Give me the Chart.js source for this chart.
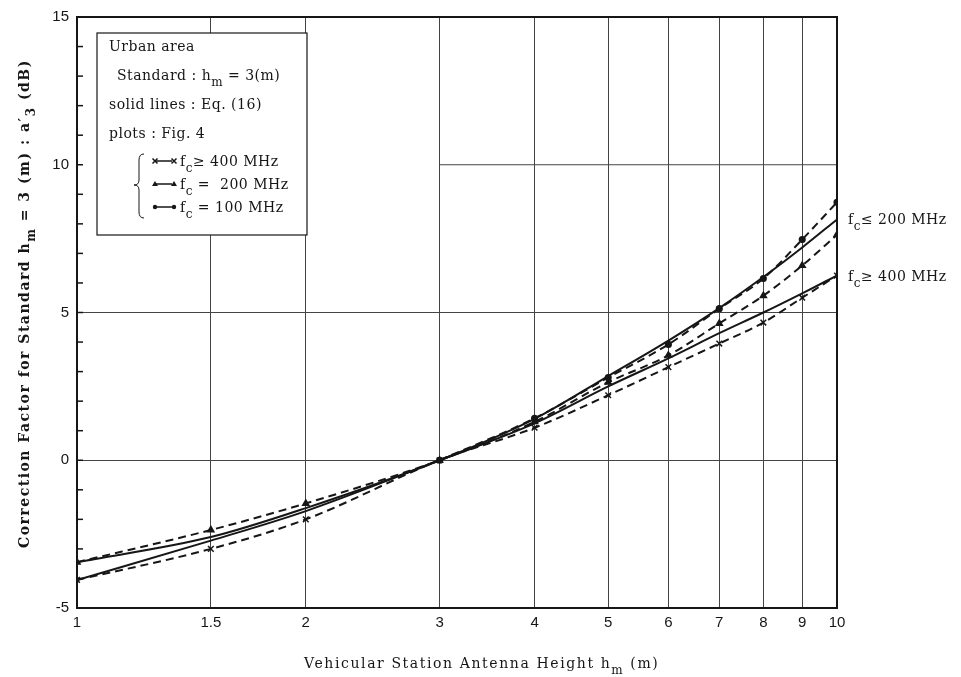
<!DOCTYPE html>
<html>
<head>
<meta charset="utf-8">
<script src="https://cdn.jsdelivr.net/npm/chart.js@4/dist/chart.umd.min.js"></script>
<style>
  html, body { margin: 0; padding: 0; background: #fff; }
  #wrap { width: 961px; height: 677px; }
</style>
</head>
<body>
<div id="wrap"><canvas id="chart"></canvas></div>
<script>
// antenna heights (m), log axis
const heights = [1, 1.5, 2, 3, 4, 5, 6, 7, 8, 9, 10];
// solid lines, Eq. (16)
const eqLow200 = [-3.45, -2.6, -1.62, 0, 1.4, 2.85, 4.05, 5.15, 6.2, 7.2, 8.15];
const eqHigh400 = [-4.05, -2.72, -1.72, 0, 1.25, 2.5, 3.45, 4.3, 5.0, 5.65, 6.25];
// plots, Fig. 4
const fig400 = [-4.05, -3.0, -2.0, 0, 1.1, 2.2, 3.15, 3.95, 4.66, 5.5, 6.25];
const fig200 = [-3.45, -2.36, -1.46, 0, 1.3, 2.64, 3.55, 4.63, 5.57, 6.59, 7.63];
const fig100 = [null, null, null, 0, 1.42, 2.8, 3.92, 5.13, 6.15, 7.47, 8.73];

const xTickValues = [1, 1.5, 2, 3, 4, 5, 6, 7, 8, 9, 10];
const yTickValues = [-5, 0, 5, 10, 15];

const SERIF = '"DejaVu Serif", "Liberation Serif", serif';
const SANS = '"Liberation Sans", "DejaVu Sans", sans-serif';
const INK = '#161616';
const GRID = '#444';

const pts = (ys) => heights.map((h, i) => ({ x: h, y: ys[i] })).filter(p => p.y !== null);

const solid = (ys) => ({
  data: pts(ys),
  borderColor: INK,
  borderWidth: 2,
  pointRadius: 0,
  cubicInterpolationMode: 'monotone',
  showLine: true
});

const dashed = (ys, style, r) => ({
  data: pts(ys),
  borderColor: INK,
  backgroundColor: INK,
  borderWidth: 2,
  borderDash: [8, 5],
  pointStyle: style,
  pointRadius: r,
  pointBorderWidth: 1.5,
  cubicInterpolationMode: 'monotone',
  showLine: true
});

// draw text pieces, some as subscripts
const rich = (ctx, parts, x, y, size, weight) => {
  let cx = x;
  parts.forEach(p => {
    const sub = Array.isArray(p);
    const t = sub ? p[0] : p;
    ctx.font = `${weight || ''} ${sub ? size - 2 : size}px ${SERIF}`;
    ctx.fillText(t, cx, sub ? y + 6 : y);
    cx += ctx.measureText(t).width;
  });
  return cx;
};

const frame = {
  id: 'frame',
  beforeDatasetsDraw(chart) {
    // the 10 dB grid line only runs right of h = 3 m
    const { ctx, chartArea: a, scales } = chart;
    const py = scales.y.getPixelForValue(10);
    ctx.save();
    ctx.strokeStyle = GRID;
    ctx.lineWidth = 1;
    ctx.beginPath();
    ctx.moveTo(scales.x.getPixelForValue(3), py);
    ctx.lineTo(a.right, py);
    ctx.stroke();
    ctx.restore();
  },
  afterDraw(chart) {
    const { ctx, chartArea: a, scales } = chart;
    const ys = scales.y;
    ctx.save();
    ctx.strokeStyle = INK;
    ctx.lineWidth = 2;
    ctx.strokeRect(a.left, a.top, a.right - a.left, a.bottom - a.top);
    // minor ticks on the left axis
    ctx.lineWidth = 1.5;
    for (let v = -5; v <= 15; v++) {
      const py = ys.getPixelForValue(v);
      ctx.beginPath();
      ctx.moveTo(a.left, py);
      ctx.lineTo(a.left + 6, py);
      ctx.stroke();
    }

    // legend box
    ctx.fillStyle = '#fff';
    ctx.fillRect(97, 33, 210, 202);
    ctx.lineWidth = 1.2;
    ctx.strokeRect(97, 33, 210, 202);
    ctx.fillStyle = INK;
    ctx.textBaseline = 'alphabetic';
    ctx.textAlign = 'left';
    if ('letterSpacing' in ctx) ctx.letterSpacing = '0.5px';
    rich(ctx, ['Urban area'], 109, 51, 14);
    rich(ctx, ['Standard : h', ['m'], ' = 3(m)'], 117, 80, 14);
    rich(ctx, ['solid lines : Eq. (16)'], 109, 109, 14);
    rich(ctx, ['plots : Fig. 4'], 109, 138, 14);

    // brace
    ctx.lineWidth = 1;
    ctx.beginPath();
    ctx.moveTo(144, 154);
    ctx.quadraticCurveTo(139, 154, 139, 160);
    ctx.lineTo(139, 180);
    ctx.quadraticCurveTo(139, 185, 134, 185);
    ctx.quadraticCurveTo(139, 185, 139, 190);
    ctx.lineTo(139, 212);
    ctx.quadraticCurveTo(139, 218, 144, 218);
    ctx.stroke();

    const rows = [
      { y: 161, mk: 'x', txt: ['f', ['c'], '\u2265 400 MHz'] },
      { y: 184, mk: 't', txt: ['f', ['c'], ' =  200 MHz'] },
      { y: 207, mk: 'o', txt: ['f', ['c'], ' = 100 MHz'] }
    ];
    rows.forEach(r => {
      ctx.lineWidth = 1.5;
      ctx.beginPath();
      ctx.moveTo(156, r.y);
      ctx.lineTo(172, r.y);
      ctx.stroke();
      [155, 174].forEach(mx => {
        ctx.beginPath();
        if (r.mk === 'x') {
          ctx.moveTo(mx - 2.5, r.y - 2.5); ctx.lineTo(mx + 2.5, r.y + 2.5);
          ctx.moveTo(mx + 2.5, r.y - 2.5); ctx.lineTo(mx - 2.5, r.y + 2.5);
          ctx.stroke();
        } else if (r.mk === 't') {
          ctx.moveTo(mx, r.y - 3); ctx.lineTo(mx + 3, r.y + 2); ctx.lineTo(mx - 3, r.y + 2);
          ctx.closePath(); ctx.fill();
        } else {
          ctx.arc(mx, r.y, 2.2, 0, Math.PI * 2); ctx.fill();
        }
      });
      rich(ctx, r.txt, 180, r.y + 5, 14);
    });

    // right-hand labels
    rich(ctx, ['f', ['c'], '\u2264 200 MHz'], 848, ys.getPixelForValue(eqLow200[10]) + 5, 14);
    rich(ctx, ['f', ['c'], '\u2265 400 MHz'], 848, ys.getPixelForValue(eqHigh400[10]) + 5, 14);

    // x axis title
    if ('letterSpacing' in ctx) ctx.letterSpacing = '1.6px';
    rich(ctx, ['Vehicular Station Antenna Height h', ['m'], ' (m)'], 304, 668, 14);

    // y axis title
    ctx.translate(29, 548);
    ctx.rotate(-Math.PI / 2);
    if ('letterSpacing' in ctx) ctx.letterSpacing = '1.5px';
    rich(ctx, ['Correction Factor for Standard h', ['m'], ' = 3 (m) : a\u2032', ['3'], ' (dB)'], 0, 0, 14, 'bold');
    ctx.restore();
  }
};

new Chart(document.getElementById('chart'), {
  type: 'scatter',
  data: {
    datasets: [
      solid(eqLow200),
      solid(eqHigh400),
      dashed(fig400, 'crossRot', 4),
      dashed(fig200, 'triangle', 3.5),
      dashed(fig100, 'circle', 2.8)
    ]
  },
  options: {
    responsive: true,
    maintainAspectRatio: false,
    animation: false,
    layout: { padding: { left: 0, top: 15, right: 124, bottom: 0 } },
    plugins: { legend: { display: false }, tooltip: { enabled: false } },
    scales: {
      x: {
        type: 'logarithmic',
        min: 1,
        max: 10,
        afterBuildTicks: (s) => { s.ticks = xTickValues.map(v => ({ value: v })); },
        afterFit: (s) => { s.height = 69; },
        ticks: {
          color: INK,
          font: { family: SANS, size: 15 },
          padding: 6,
          maxRotation: 0,
          autoSkip: false,
          callback: (v) => String(v)
        },
        grid: { color: GRID, lineWidth: 1, drawTicks: false },
        border: { display: false }
      },
      y: {
        min: -5,
        max: 15,
        afterBuildTicks: (s) => { s.ticks = yTickValues.map(v => ({ value: v })); },
        afterFit: (s) => { s.width = 77; },
        ticks: {
          color: INK,
          font: { family: SANS, size: 15 },
          padding: 8
        },
        grid: {
          color: (c) => (c.tick && c.tick.value === 10 ? 'transparent' : GRID),
          lineWidth: 1,
          drawTicks: false
        },
        border: { display: false }
      }
    }
  },
  plugins: [frame]
});
</script>
</body>
</html>
